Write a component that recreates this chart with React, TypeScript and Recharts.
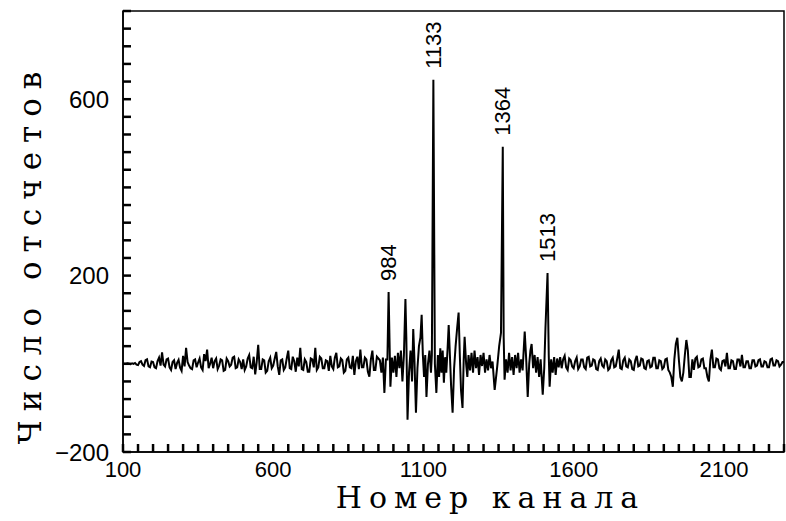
import { LineChart, Line, XAxis, YAxis, ReferenceDot, ReferenceArea } from "recharts";

// baseline noise before the cluster (step 5)
const LEFT_CHANNELS = [
  100, 105, 110, 115, 120, 125, 130, 135, 140, 145, 150, 155, 160, 165, 170, 175, 180, 185, 190, 195,
  200, 205, 210, 215, 220, 225, 230, 235, 240, 245, 250, 255, 260, 265, 270, 275, 280, 285, 290, 295,
  300, 305, 310, 315, 320, 325, 330, 335, 340, 345, 350, 355, 360, 365, 370, 375, 380, 385, 390, 395,
  400, 405, 410, 415, 420, 425, 430, 435, 440, 445, 450, 455, 460, 465, 470, 475, 480, 485, 490, 495,
  500, 505, 510, 515, 520, 525, 530, 535, 540, 545, 550, 555, 560, 565, 570, 575, 580, 585, 590, 595,
  600, 605, 610, 615, 620, 625, 630, 635, 640, 645, 650, 655, 660, 665, 670, 675, 680, 685, 690, 695,
  700, 705, 710, 715, 720, 725, 730, 735, 740, 745, 750, 755, 760, 765, 770, 775, 780, 785, 790, 795,
  800, 805, 810, 815, 820, 825, 830, 835, 840, 845, 850, 855, 860, 865, 870, 875, 880, 885, 890, 895,
  900, 905, 910, 915, 920, 925, 930, 935, 940, 945, 950,
];
const LEFT_COUNTS = [
  0, 0, 0, 1, 0, -1, 1, 0, 2, -2, -3, 4, 6, -2, -5, 8, 10, -6, -8, 5,
  4, -8, -10, 6, 14, -4, 26, -2, -6, 10, 12, -8, -14, 4, 8, -12, 2, 9, -9, -16,
  18, -6, 36, 4, -4, -10, -12, 8, 10, -8, 3, 12, -8, -14, 22, 6, 32, -10, 0, 14,
  -10, 6, 12, -12, -4, 10, 8, -16, -14, 12, 6, -6, -2, 14, 16, -10, -8, 10, 4, -12,
  10, -14, -6, 12, 20, -8, -10, 16, -24, 4, 43, -12, -12, 10, 8, -20, -16, 6, 14, -10,
  -4, 12, 27, -6, -25, 8, 10, -14, -8, 12, 30, -10, -12, 16, 6, -18, 14, -6, 36, -12,
  -14, 10, 4, -18, -18, 12, 10, -8, 36, -14, -8, 16, 12, -10, -10, 8, 6, -16, 18, -6,
  -12, 14, 25, -8, -6, 12, 8, -20, -16, 10, 14, -8, -10, 18, -25, 6, 16, -12, 32, -8,
  -8, 14, 10, -18, -29, 10, 30, -14, -14, 16, 12,
];

// peak cluster
const MID_CHANNELS = [
  955, 960, 965, 970, 975, 980, 984, 988, 990, 995,
  1000, 1005, 1010, 1015, 1020, 1025, 1030, 1035, 1040, 1043,
  1047, 1052, 1057, 1062, 1066, 1070, 1075, 1080, 1085, 1090,
  1094, 1098, 1102, 1106, 1110, 1115, 1120, 1125, 1128, 1133,
  1138, 1143, 1148, 1152, 1156, 1160, 1164, 1168, 1172, 1176,
  1180, 1184, 1188, 1192, 1197, 1202, 1207, 1212, 1217, 1221,
  1225, 1230, 1234, 1237, 1242, 1246, 1250, 1255, 1260, 1265,
  1270, 1275, 1280, 1285, 1290, 1295, 1300, 1305, 1310, 1315,
  1320, 1325, 1330, 1337, 1345, 1352, 1358, 1364, 1367, 1370,
  1375, 1380, 1385, 1390, 1395, 1400, 1405, 1410, 1415, 1420,
  1425, 1430, 1437, 1442, 1447, 1452, 1456, 1460, 1465, 1470,
  1475, 1480, 1485, 1490, 1497, 1502, 1506, 1513, 1517, 1520,
  1525, 1530, 1535, 1540, 1545, 1550, 1555, 1560,
];
const MID_COUNTS = [
  8, -20, 14, -66, 10, 10, 163, 20, -52, 14,
  -20, 18, -30, 25, -10, 30, -40, 20, 147, 60,
  -127, -20, 30, -40, 79, 10, -111, -10, 40, 60,
  111, 20, -30, 20, -75, 0, 30, -20, 20, 644,
  0, -66, 20, -30, 35, -20, 30, -43, 15, -20,
  30, 88, 20, -50, -111, -10, 40, 80, 116, 20,
  -60, -100, 10, 61, 0, -30, 20, -15, 25, -20,
  30, -10, 15, -25, 20, -5, 25, -20, 10, -15,
  20, -10, 5, -59, -10, 40, 70, 492, 60, -36,
  10, -20, 25, -15, 15, -25, 20, -10, 25, -20,
  10, -15, 73, 10, -75, 0, 30, 45, -10, 20,
  -20, 15, -30, 10, -70, -10, 80, 206, 20, -52,
  10, -20, 15, -25, 12, -8, 15, -10,
];

// tail after the cluster (step 5)
const RIGHT_CHANNELS = [
  1565, 1570, 1575, 1580, 1585, 1590, 1595,
  1600, 1605, 1610, 1615, 1620, 1625, 1630, 1635, 1640, 1645, 1650, 1655, 1660, 1665, 1670, 1675, 1680, 1685, 1690, 1695,
  1700, 1705, 1710, 1715, 1720, 1725, 1730, 1735, 1740, 1745, 1750, 1755, 1760, 1765, 1770, 1775, 1780, 1785, 1790, 1795,
  1800, 1805, 1810, 1815, 1820, 1825, 1830, 1835, 1840, 1845, 1850, 1855, 1860, 1865, 1870, 1875, 1880, 1885, 1890, 1895,
  1900, 1905, 1910, 1915, 1920, 1925, 1930, 1935, 1940, 1945, 1950, 1955, 1960, 1965, 1970, 1975, 1980, 1985, 1990, 1995,
  2000, 2005, 2010, 2015, 2020, 2025, 2030, 2035, 2040, 2045, 2050, 2055, 2060, 2065, 2070, 2075, 2080, 2085, 2090, 2095,
  2100, 2105, 2110, 2115, 2120, 2125, 2130, 2135, 2140, 2145, 2150, 2155, 2160, 2165, 2170, 2175, 2180, 2185, 2190, 2195,
  2200, 2205, 2210, 2215, 2220, 2225, 2230, 2235, 2240, 2245, 2250, 2255, 2260, 2265, 2270, 2275, 2280, 2285, 2290, 2295,
  2300,
];
const RIGHT_COUNTS = [
  10, 18, -8, -14, 12, 8, -6,
  -10, 6, 14, -12, -6, 10, 10, -8, -12, 14, 16, -6, -4, 10, 8, -12, -14, 6, 12, -4,
  -8, 10, 6, -14, -10, 8, 14, -8, -6, 12, 32, -10, -12, 8, 14, -6, -8, 10, 6, -12,
  -14, 8, 18, -6, -4, 12, 10, -10, -12, 6, 8, -8, -6, 14, 14, -10, -10, 8, 6, -12,
  -8, 10, 12, -14, -20, -30, -52, 10, 45, 59, 10, -30, -40, -20, 20, 54, 30, -30, -30, 10,
  -14, 12, 16, -8, -6, 10, 12, -10, -10, -30, -40, 10, 32, -8, -8, 12, 10, -10, -14, 6,
  8, -6, 25, -10, -10, 8, 6, -12, -12, 10, 10, -6, 20, -8, -8, 6, 6, -10, -10, 8,
  8, -6, -4, 8, 10, -6, -6, 6, 4, -8, -8, 10, 12, -4, -4, 8, 6, -6, -2, 4,
  4,
];

const PEAKS = [984, 1133, 1364, 1513];

const X_TICKS = [
  100, 150, 200, 250, 300, 350, 400, 450, 500, 550,
  600, 650, 700, 750, 800, 850, 900, 950, 1000, 1050,
  1100, 1150, 1200, 1250, 1300, 1350, 1400, 1450, 1500, 1550,
  1600, 1650, 1700, 1750, 1800, 1850, 1900, 1950, 2000, 2050,
  2100, 2150, 2200, 2250, 2300,
];
const X_LABELS = [100, 600, 1100, 1600, 2100];
const Y_TICKS = [
  -200, -160, -120, -80, -40, 0, 40, 80, 120, 160,
  200, 240, 280, 320, 360, 400, 440, 480, 520, 560,
  600, 640, 680, 720, 760, 800,
];
const Y_LABELS = [-200, 200, 600];

const X_MIN = 100;
const X_MAX = 2300;
const Y_MIN = -200;
const Y_MAX = 800;

const SANS = "'Liberation Sans', Arial, sans-serif";
const SERIF = "'DejaVu Serif', serif";

function zip(chs: number[], counts: number[]) {
  const n = Math.min(chs.length, counts.length);
  const out: { ch: number; count: number }[] = [];
  for (let i = 0; i < n; i++) out.push({ ch: chs[i], count: counts[i] });
  return out;
}

const data = [
  ...zip(LEFT_CHANNELS, LEFT_COUNTS),
  ...zip(MID_CHANNELS, MID_COUNTS),
  ...zip(RIGHT_CHANNELS, RIGHT_COUNTS),
];

const fmt = (v: number) => (v < 0 ? `\u2212${Math.abs(v)}` : String(v));

// tick marks come from recharts (negative tickSize -> inward); these only draw labels
function XTick(props: any) {
  const { x, y, payload } = props;
  if (!X_LABELS.includes(payload.value)) return <g />;
  return (
    <text x={x} y={y} textAnchor="middle" dominantBaseline="central" fontSize={22} fontFamily={SANS} fill="#000">
      {fmt(payload.value)}
    </text>
  );
}

function YTick(props: any) {
  const { x, y, payload } = props;
  if (!Y_LABELS.includes(payload.value)) return <g />;
  return (
    <text x={x} y={y} textAnchor="end" dominantBaseline="central" fontSize={24} fontFamily={SANS} fill="#000">
      {fmt(payload.value)}
    </text>
  );
}

function PeakLabel(props: any) {
  const { viewBox, value } = props;
  const cx = viewBox.x + viewBox.width / 2;
  const cy = viewBox.y;
  return (
    <text
      transform={`translate(${cx},${cy - 10}) rotate(-90)`}
      textAnchor="start"
      dominantBaseline="central"
      fontSize={22}
      fontFamily={SANS}
      fill="#000"
    >
      {value}
    </text>
  );
}

function XTitle(props: any) {
  const { viewBox } = props;
  return (
    <text x={viewBox.x + viewBox.width / 2 + 37} y={viewBox.y + 45} textAnchor="middle" dominantBaseline="central" fontSize={30} letterSpacing={7} fontFamily={SERIF} fill="#000">
      Номер канала
    </text>
  );
}

function YTitle(props: any) {
  const { viewBox } = props;
  const cy = viewBox.y + viewBox.height / 2 + 22;
  return (
    <text transform={`translate(30,${cy}) rotate(-90)`} textAnchor="middle" dominantBaseline="central" fontSize={31} letterSpacing={9} fontFamily={SERIF} fill="#000">
      Число отсчетов
    </text>
  );
}

export default function App() {
  return (
    <div style={{ position: "absolute", left: 0, top: 0, background: "#fff" }}>
      <LineChart width={786} height={521} data={data} margin={{ top: 11, right: 2, bottom: 0, left: 0 }}>
        <XAxis
          dataKey="ch"
          type="number"
          domain={[X_MIN, X_MAX]}
          ticks={X_TICKS}
          interval={0}
          height={69}
          tickSize={-8}
          tickMargin={25}
          tickLine={{ stroke: "#000", strokeWidth: 2.5 }}
          tick={<XTick />}
          axisLine={{ stroke: "#000", strokeWidth: 1.5 }}
          label={{ content: <XTitle /> }}
          allowDataOverflow
        />
        <YAxis
          type="number"
          domain={[Y_MIN, Y_MAX]}
          ticks={Y_TICKS}
          interval={0}
          width={123}
          tickSize={-8}
          tickMargin={22}
          tickLine={{ stroke: "#000", strokeWidth: 2.5 }}
          tick={<YTick />}
          axisLine={{ stroke: "#000", strokeWidth: 1.5 }}
          label={{ content: <YTitle /> }}
          allowDataOverflow
        />

        {/* plot frame */}
        <ReferenceArea
          x1={X_MIN}
          x2={X_MAX}
          y1={Y_MIN}
          y2={Y_MAX}
          fill="none"
          fillOpacity={0}
          stroke="#000"
          strokeWidth={1.5}
          ifOverflow="visible"
        />

        <Line
          type="linear"
          dataKey="count"
          stroke="#000"
          strokeWidth={2}
          dot={false}
          isAnimationActive={false}
        />

        {PEAKS.map((ch) => {
          const pt = data.find((d) => d.ch === ch);
          return (
            <ReferenceDot
              key={ch}
              x={ch}
              y={pt ? pt.count : 0}
              r={1}
              fill="none"
              stroke="none"
              label={{ value: String(ch), content: <PeakLabel /> }}
            />
          );
        })}
      </LineChart>
    </div>
  );
}
